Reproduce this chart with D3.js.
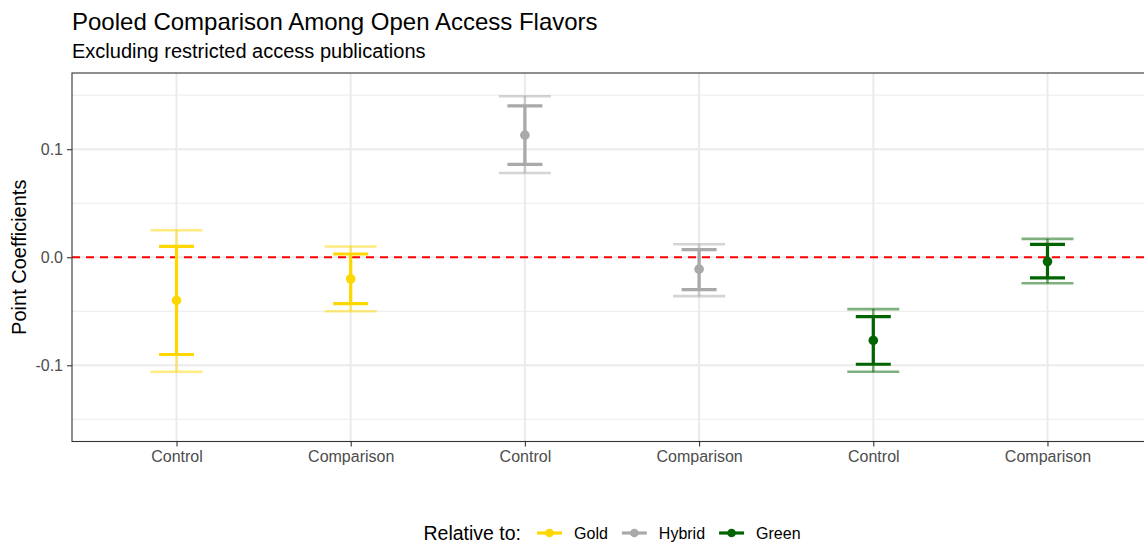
<!DOCTYPE html>
<html>
<head>
<meta charset="utf-8">
<script src="https://cdn.jsdelivr.net/npm/d3@7"></script>
<style>
  html, body { margin: 0; padding: 0; background: #fff; }
  svg { display: block; font-family: "Liberation Sans", Arial, Helvetica, sans-serif; }
</style>
</head>
<body>
<svg id="chart" width="1144" height="544"></svg>
<script>
// Pooled point coefficients with inner and outer confidence bands
const categories = ["Control", "Comparison", "Control", "Comparison", "Control", "Comparison"];
const flavors    = ["Gold", "Gold", "Hybrid", "Hybrid", "Green", "Green"];
const estimates  = [-0.040, -0.020, 0.113, -0.011, -0.077, -0.004];
const innerLow   = [-0.090, -0.043, 0.086, -0.030, -0.099, -0.019];
const innerHigh  = [ 0.010,  0.003, 0.140,  0.007, -0.055,  0.012];
const outerLow   = [-0.106, -0.050, 0.078, -0.036, -0.106, -0.024];
const outerHigh  = [ 0.025,  0.010, 0.149,  0.012, -0.048,  0.017];

const legendFlavors = ["Gold", "Hybrid", "Green"];
const flavorColors  = ["#FFD700", "#A9A9A9", "#006400"];
const yTicks      = [-0.1, 0.0, 0.1];
const yMinorTicks = [-0.15, -0.05, 0.05, 0.15];
const yLimits     = [-0.1705, 0.1705];

const svg = d3.select("#chart");
const panel = { left: 72, top: 73, right: 1152, bottom: 441.5 };

const ids = categories.map((_, i) => i);
const x = d3.scalePoint().domain(ids).range([panel.left, panel.right]).padding(0.6);
const y = d3.scaleLinear().domain(yLimits).range([panel.bottom, panel.top]);
const color = d3.scaleOrdinal().domain(legendFlavors).range(flavorColors);

const rows = ids.map(i => ({
  i, cat: categories[i], flavor: flavors[i], est: estimates[i],
  lo: innerLow[i], hi: innerHigh[i], olo: outerLow[i], ohi: outerHigh[i]
}));

// clip everything inside the panel
svg.append("defs").append("clipPath").attr("id", "panelClip")
  .append("rect")
  .attr("x", panel.left).attr("y", panel.top)
  .attr("width", panel.right - panel.left).attr("height", panel.bottom - panel.top);

const g = svg.append("g").attr("clip-path", "url(#panelClip)");

// grid
g.selectAll(".yminor").data(yMinorTicks).join("line")
  .attr("x1", panel.left).attr("x2", panel.right)
  .attr("y1", d => y(d)).attr("y2", d => y(d))
  .attr("stroke", "#EBEBEB").attr("stroke-width", 1);
g.selectAll(".ymajor").data(yTicks).join("line")
  .attr("x1", panel.left).attr("x2", panel.right)
  .attr("y1", d => y(d)).attr("y2", d => y(d))
  .attr("stroke", "#EBEBEB").attr("stroke-width", 2);
g.selectAll(".xmajor").data(ids).join("line")
  .attr("x1", d => x(d)).attr("x2", d => x(d))
  .attr("y1", panel.top).attr("y2", panel.bottom)
  .attr("stroke", "#EBEBEB").attr("stroke-width", 2);

// reference line at zero
g.append("line")
  .attr("x1", panel.left).attr("x2", panel.right)
  .attr("y1", y(0)).attr("y2", y(0))
  .attr("stroke", "#FF0000").attr("stroke-width", 1.8)
  .attr("stroke-dasharray", "8,6");

// error bar helper
function errorBars(sel, lowKey, highKey, halfWidth, width, opacity) {
  const eb = sel.selectAll(null).data(rows).join("g")
    .attr("stroke", d => color(d.flavor))
    .attr("stroke-width", width)
    .attr("stroke-opacity", opacity);
  eb.append("line")
    .attr("x1", d => x(d.i)).attr("x2", d => x(d.i))
    .attr("y1", d => y(d[lowKey])).attr("y2", d => y(d[highKey]));
  eb.append("line")
    .attr("x1", d => x(d.i) - halfWidth).attr("x2", d => x(d.i) + halfWidth)
    .attr("y1", d => y(d[lowKey])).attr("y2", d => y(d[lowKey]));
  eb.append("line")
    .attr("x1", d => x(d.i) - halfWidth).attr("x2", d => x(d.i) + halfWidth)
    .attr("y1", d => y(d[highKey])).attr("y2", d => y(d[highKey]));
}
errorBars(g, "olo", "ohi", 26, 2.6, 0.5);
errorBars(g, "lo", "hi", 17.5, 3.2, 1);

g.selectAll(".pt").data(rows).join("circle")
  .attr("cx", d => x(d.i)).attr("cy", d => y(d.est))
  .attr("r", 4.8).attr("fill", d => color(d.flavor));

// panel border
svg.append("rect")
  .attr("x", panel.left).attr("y", panel.top)
  .attr("width", panel.right - panel.left).attr("height", panel.bottom - panel.top)
  .attr("fill", "none").attr("stroke", "#333333").attr("stroke-width", 1.1);

// axes
const fmt = d => d3.format(".1f")(d).replace("\u2212", "-");
const yAxis = svg.append("g").attr("transform", `translate(${panel.left},0)`)
  .call(d3.axisLeft(y).tickValues(yTicks).tickFormat(fmt).tickSize(5).tickPadding(4));
const xAxis = svg.append("g").attr("transform", `translate(0,${panel.bottom})`)
  .call(d3.axisBottom(x).tickFormat(i => categories[i]).tickSize(5).tickPadding(4));
[xAxis, yAxis].forEach(a => {
  a.select(".domain").remove();
  a.selectAll(".tick line").attr("stroke", "#333333").attr("stroke-width", 1.1);
  a.selectAll(".tick text").attr("fill", "#4D4D4D")
    .style("font-size", "16px").style("font-family", "Liberation Sans, Arial, sans-serif");
});
yAxis.selectAll(".tick text").attr("dy", "0.35em");

// titles
svg.append("text").attr("x", panel.left).attr("y", 29.5)
  .style("font-size", "24px").attr("fill", "#000")
  .text("Pooled Comparison Among Open Access Flavors");
svg.append("text").attr("x", panel.left).attr("y", 57.5)
  .style("font-size", "20px").attr("fill", "#000")
  .text("Excluding restricted access publications");
svg.append("text")
  .attr("transform", `translate(26,${(panel.top + panel.bottom) / 2}) rotate(-90)`)
  .attr("text-anchor", "middle")
  .style("font-size", "20px").attr("fill", "#000")
  .text("Point Coefficients");

// legend: measure texts first, then place everything centred under the panel
const legendY = 533;
const legendTitleSize = 19.5, legendLabelSize = 16;
function measure(str, size) {
  const t = svg.append("text").style("font-size", size + "px").attr("visibility", "hidden").text(str);
  const w = t.node().getComputedTextLength();
  t.remove();
  return w;
}
const titleW = measure("Relative to:", legendTitleSize);
const labelW = legendFlavors.map(f => measure(f, legendLabelSize));
const keyW = 25, titleGap = 16, keyGap = 12, itemGap = 14;
const totalW = titleW + titleGap + d3.sum(labelW) + legendFlavors.length * (keyW + keyGap)
  + (legendFlavors.length - 1) * itemGap;
let cursor = (panel.left + panel.right) / 2 - totalW / 2;

svg.append("text").attr("x", cursor).attr("y", legendY).attr("dy", "0.35em")
  .style("font-size", legendTitleSize + "px").attr("fill", "#000").text("Relative to:");
cursor += titleW + titleGap;
legendFlavors.forEach((f, k) => {
  svg.append("line").attr("x1", cursor).attr("x2", cursor + keyW)
    .attr("y1", legendY).attr("y2", legendY)
    .attr("stroke", color(f)).attr("stroke-width", 3.2);
  svg.append("circle").attr("cx", cursor + keyW / 2).attr("cy", legendY)
    .attr("r", 4.3).attr("fill", color(f));
  svg.append("text").attr("x", cursor + keyW + keyGap).attr("y", legendY).attr("dy", "0.35em")
    .style("font-size", legendLabelSize + "px").attr("fill", "#000").text(f);
  cursor += keyW + keyGap + labelW[k] + itemGap;
});
</script>
</body>
</html>
